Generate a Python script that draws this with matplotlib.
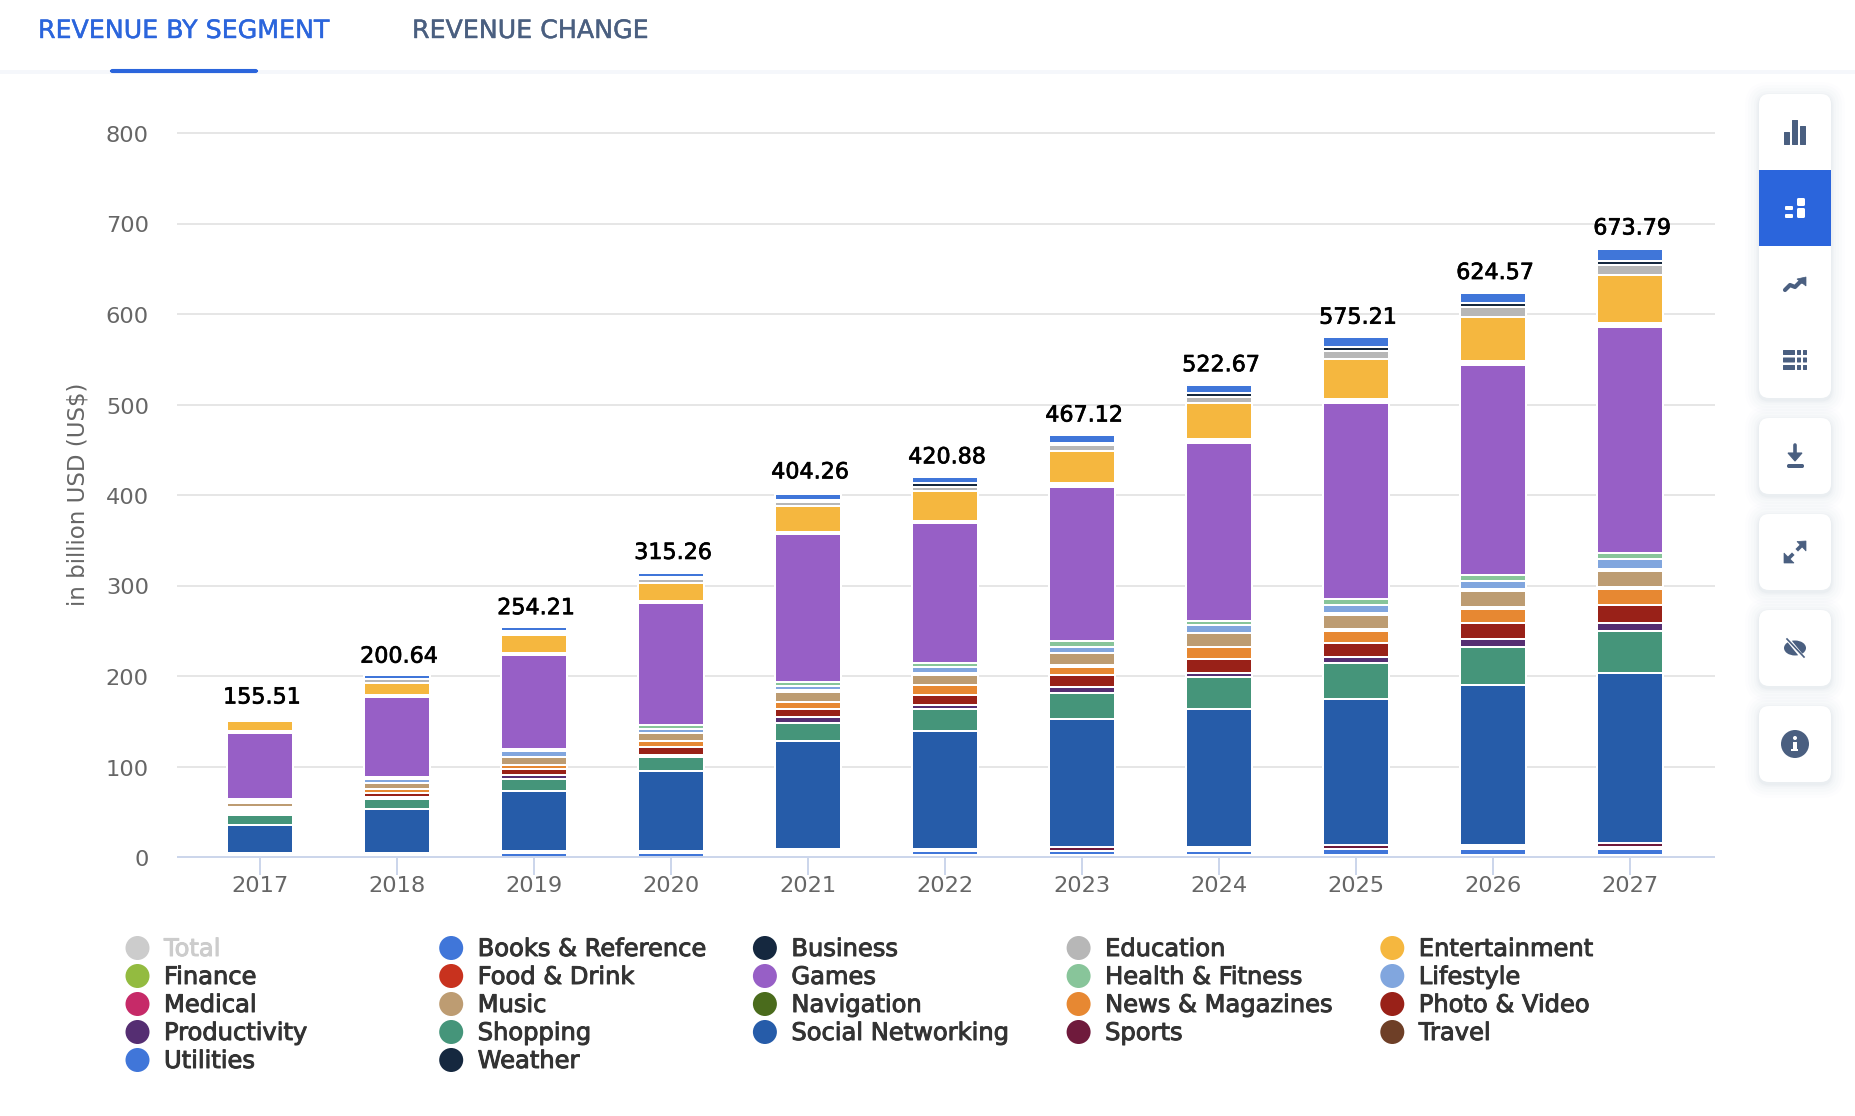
import numpy as np
import matplotlib
matplotlib.use("Agg")
import matplotlib.pyplot as plt
import matplotlib.patheffects as pe
from matplotlib.patches import Circle, Ellipse, FancyBboxPatch, Polygon, Rectangle
from matplotlib.transforms import ScaledTranslation

W, H = 1856, 1116

years = [2017, 2018, 2019, 2020, 2021, 2022, 2023, 2024, 2025, 2026, 2027]
totals = ["155.51", "200.64", "254.21", "315.26", "404.26", "420.88", "467.12", "522.67", "575.21", "624.57", "673.79"]

books = [0, 4.4, 4.4, 4.4, 6.6, 6.6, 8.8, 8.8, 11.05, 11.05, 13.3]
business = [0, 0, 2.2, 2.2, 2.2, 4.4, 2.2, 4.4, 4.4, 4.4, 4.4]
education = [0, 4.4, 2.2, 4.4, 4.4, 4.4, 6.6, 6.6, 8.8, 11.05, 11.05]
entertainment = [11.05, 13.3, 19.9, 19.9, 28.7, 33.15, 35.4, 39.8, 44.2, 48.6, 53]
finance = [1.1, 1.1, 1.1, 1.1, 1.1, 1.1, 2.2, 2.2, 2.2, 2.2, 2.2]
food = [1.1, 1.1, 1.1, 1.1, 1.1, 1.1, 2.2, 2.2, 2.2, 2.2, 2.2]
games = [72.9, 88.4, 103.9, 134.8, 163.5, 154.7, 170.2, 196.7, 216.6, 232, 249.7]
health = [1.5, 2.2, 2.2, 4.4, 4.4, 4.4, 6.6, 4.4, 6.6, 6.6, 6.6]
lifestyle = [1.5, 4.4, 6.6, 4.4, 4.4, 6.6, 6.6, 8.8, 8.8, 8.8, 11.05]
medical = [1.5, 0, 0, 0, 2.2, 2.2, 0, 0, 2.2, 2.2, 2.2]
music = [4.4, 6.6, 8.8, 8.8, 11.05, 11.05, 13.3, 15.5, 15.5, 17.7, 17.7]
navigation = [2.1, 0, 0, 0, 0, 0, 2.2, 0, 2.2, 2.2, 2.2]
news = [2.1, 4.4, 4.4, 6.6, 8.8, 11.05, 8.8, 13.3, 13.3, 15.5, 17.7]
photo = [2.1, 4.4, 6.6, 8.8, 8.8, 11.05, 13.3, 15.5, 15.5, 17.7, 19.9]
productivity = [2.1, 2.2, 4.4, 2.2, 6.6, 4.4, 6.6, 4.4, 6.6, 8.8, 8.8]
shopping = [11.05, 11.05, 13.3, 15.5, 19.9, 24.3, 28.7, 35.4, 39.8, 42, 46.4]
social = [30.9, 48.6, 66.3, 88.4, 119.3, 130.4, 141.4, 152.5, 161.3, 176.8, 187.9]
sports = [1.5, 1.5, 1.1, 1.1, 2.1, 1.1, 4.4, 2.2, 4.4, 2.2, 4.4]
travel = [1.5, 1.5, 1.1, 1.1, 2.1, 1.1, 0, 2.2, 0, 2.2, 2.2]
utilities = [1.4, 1.4, 4.4, 4.4, 2.1, 4.4, 4.4, 4.4, 6.6, 6.6, 6.6]
weather = [0, 0, 0, 0, 2.1, 2.2, 2.2, 2.2, 2.2, 2.2, 2.2]

# top of the stack first, same order as the legend
segments = [
    ("Books & Reference", books, "#4076d9"),
    ("Business", business, "#15283f"),
    ("Education", education, "#b7b7b7"),
    ("Entertainment", entertainment, "#f5b73f"),
    ("Finance", finance, "#93bb40"),
    ("Food & Drink", food, "#c8321e"),
    ("Games", games, "#975fc6"),
    ("Health & Fitness", health, "#88c59a"),
    ("Lifestyle", lifestyle, "#81a6de"),
    ("Medical", medical, "#c62a68"),
    ("Music", music, "#bd9c72"),
    ("Navigation", navigation, "#4a6b1c"),
    ("News & Magazines", news, "#e78832"),
    ("Photo & Video", photo, "#992118"),
    ("Productivity", productivity, "#552e72"),
    ("Shopping", shopping, "#45957a"),
    ("Social Networking", social, "#265ca9"),
    ("Sports", sports, "#6f1a3c"),
    ("Travel", travel, "#6e3f27"),
    ("Utilities", utilities, "#4076d9"),
    ("Weather", weather, "#15283f"),
]

BLUE = "#2b65dc"
SLATE = "#4a5f80"

fig = plt.figure(figsize=(W / 100, H / 100), dpi=100, facecolor="white")


# overlay in image pixels, for the tabs, the side panel and the legend
ui = fig.add_axes([0, 0, 1, 1], zorder=0)
ui.set_xlim(0, W)
ui.set_ylim(H, 0)
ui.axis("off")

ax = fig.add_axes([178 / W, 1 - 857 / H, (1714 - 178) / W, (857 - 133) / H], zorder=1)
ax.patch.set_alpha(0)

step = 137.0
ax.set_xlim(2017 - (260 - 178) / step, 2017 + (1714 - 260) / step)
ax.set_ylim(0, 800)

bottom = np.zeros(len(years))
for name, values, color in reversed(segments):
    ax.bar(years, values, width=66 / step, bottom=bottom, color=color, edgecolor="white", linewidth=1.44, zorder=2)
    bottom = bottom + np.array(values)

# the label sits over the published total, not over the visible stack
for year, label in zip(years, totals):
    ax.annotate(label, (year, float(label)), xytext=(1.5, 13.5), textcoords="offset points", ha="center", va="center",
                fontsize=16, color="black", zorder=5,
                path_effects=[pe.withStroke(linewidth=0.5, foreground="black")])

ax.set_yticks(np.arange(0, 900, 100))
ax.set_xticks(years)
ax.grid(axis="y", color="#e6e6e6", linewidth=1.44, zorder=0)
ax.grid(axis="x", visible=False)
ax.set_axisbelow(True)
for line in ax.get_ygridlines():
    line.set_clip_on(False)
for side in ["top", "right", "left"]:
    ax.spines[side].set_visible(False)
ax.spines["bottom"].set_color("#ccd6eb")
ax.spines["bottom"].set_linewidth(1.44)
ax.spines["bottom"].set_zorder(3)
ax.tick_params(axis="x", length=13, width=1.44, color="#ccd6eb", labelcolor="#666666", labelsize=16.2, pad=0.5)
ax.tick_params(axis="y", length=0, labelcolor="#666666", labelsize=16.2, pad=21)
# y labels sit a little under their gridlines
for tick_label in ax.get_yticklabels():
    tick_label.set_transform(tick_label.get_transform() + ScaledTranslation(0, -1 / 100, fig.dpi_scale_trans))
ax.set_ylabel("in billion USD (US$)", fontsize=16.5, color="#666666", labelpad=0)
ax.yaxis.set_label_coords((89 - 178) / (1714 - 178), (857 - 494) / (857 - 133))

# tabs
ui.add_patch(Rectangle((0, 70), W, 4, color="#f5f7fb", lw=0))
ui.add_patch(FancyBboxPatch((111, 70), 146, 2, boxstyle="round,pad=0,rounding_size=1.5", fc=BLUE, ec=BLUE, lw=1.5))
ui.text(38, 31, "REVENUE BY SEGMENT", fontsize=18.2, color=BLUE, va="center", ha="left",
        path_effects=[pe.withStroke(linewidth=0.3, foreground=BLUE)])
ui.text(412, 31, "REVENUE CHANGE", fontsize=18.2, color=SLATE, va="center", ha="left",
        path_effects=[pe.withStroke(linewidth=0.3, foreground=SLATE)])

# side panel
ui.add_patch(Rectangle((1855, 0), 1, H, color="#dcdee3", lw=0))


def card(y0, y1):
    for grow, alpha in [(14, 0.008), (11, 0.01), (8, 0.012), (5, 0.016), (3, 0.02), (1.5, 0.03)]:
        ui.add_patch(FancyBboxPatch((1759 - grow, y0 - grow + 2), 72 + 2 * grow, y1 - y0 + 2 * grow,
                                    boxstyle="round,pad=0,rounding_size=%g" % (10 + grow),
                                    fc="#4a5f80", ec="none", alpha=alpha))
    ui.add_patch(FancyBboxPatch((1759, y0), 72, y1 - y0, boxstyle="round,pad=0,rounding_size=10", fc="white", ec="none"))


def icon_rect(x, y, w, h, color=SLATE, r=1):
    ui.add_patch(FancyBboxPatch((x, y), w, h, boxstyle="round,pad=0,rounding_size=%g" % r,
                                fc=color, ec="none", zorder=4))


card(94, 398)
card(418, 494)
card(514, 590)
card(610, 686)
card(706, 782)
ui.add_patch(Rectangle((1759, 170), 72, 76, color=BLUE, lw=0, zorder=3))

# bar chart icon
icon_rect(1784, 132, 6, 13, r=0.5)
icon_rect(1792, 120, 6, 25, r=0.5)
icon_rect(1800, 126, 6, 19, r=0.5)
# stacked icon
icon_rect(1785, 206, 8, 4, "white")
icon_rect(1785, 214, 8, 4, "white")
icon_rect(1797, 198, 8, 8, "white", 1.5)
icon_rect(1797, 208, 8, 10, "white", 1.5)
# trend icon
ui.plot([1785, 1790, 1795, 1800, 1804], [290, 285, 287, 282, 281], color=SLATE, lw=3, solid_capstyle="round",
        solid_joinstyle="round", zorder=4)
ui.add_patch(Polygon([(1797, 279), (1806, 277), (1806, 286)], fc=SLATE, ec=SLATE, lw=0.5, zorder=4))
# table icon
for row_y in [350, 357.5, 365]:
    icon_rect(1783, row_y, 12, 5, r=0.5)
    icon_rect(1797, row_y, 4, 5, r=0.5)
    icon_rect(1803, row_y, 4, 5, r=0.5)
# download icon
ui.plot([1795, 1795], [445, 455], color=SLATE, lw=2.6, solid_capstyle="round", zorder=4)
ui.add_patch(Polygon([(1788, 453), (1802, 453), (1795, 461)], fc=SLATE, ec=SLATE, lw=0.8, zorder=4))
icon_rect(1787, 464, 17, 4, r=1.8)
# expand icon
ui.add_patch(Polygon([(1806, 541), (1797, 541.5), (1806, 551)], fc=SLATE, ec=SLATE, lw=0.5, zorder=4))
ui.add_patch(Polygon([(1784, 563), (1784, 553), (1794, 563)], fc=SLATE, ec=SLATE, lw=0.5, zorder=4))
ui.plot([1801, 1798], [546, 549], color=SLATE, lw=2.6, zorder=4)
ui.plot([1789, 1792], [558, 555], color=SLATE, lw=2.6, zorder=4)
# hide icon
ui.add_patch(Ellipse((1795, 648), 22, 15, fc=SLATE, ec="none", zorder=4))
ui.plot([1786, 1804], [637, 659], color="white", lw=3, zorder=5)
ui.plot([1787, 1804], [639, 657], color=SLATE, lw=1.2, zorder=6)
# info icon
ui.add_patch(Circle((1795, 744), 14, fc=SLATE, ec="none", zorder=4))
ui.add_patch(Circle((1795, 738), 2, fc="white", ec="none", zorder=5))
ui.add_patch(Rectangle((1793, 742), 4, 8, fc="white", ec="none", zorder=5))
ui.add_patch(Rectangle((1791.5, 749), 7, 2.2, fc="white", ec="none", zorder=5))

# legend, five columns filled row by row
legend_names = ["Total"] + [s[0] for s in segments]
legend_colors = ["#cccccc"] + [s[2] for s in segments]
for i, (name, color) in enumerate(zip(legend_names, legend_colors)):
    col_x = 137.5 + (i % 5) * 313.7
    row_y = 948 + (i // 5) * 28
    ui.add_patch(Circle((col_x, row_y), 12, fc=color, ec="none"))
    text_color = "#cccccc" if name == "Total" else "#333333"
    ui.text(col_x + 26.5, row_y + 1, name, fontsize=17.4, color=text_color, va="center", ha="left",
            path_effects=[pe.withStroke(linewidth=0.7, foreground=text_color)])

fig.savefig("out.png", dpi=100)
